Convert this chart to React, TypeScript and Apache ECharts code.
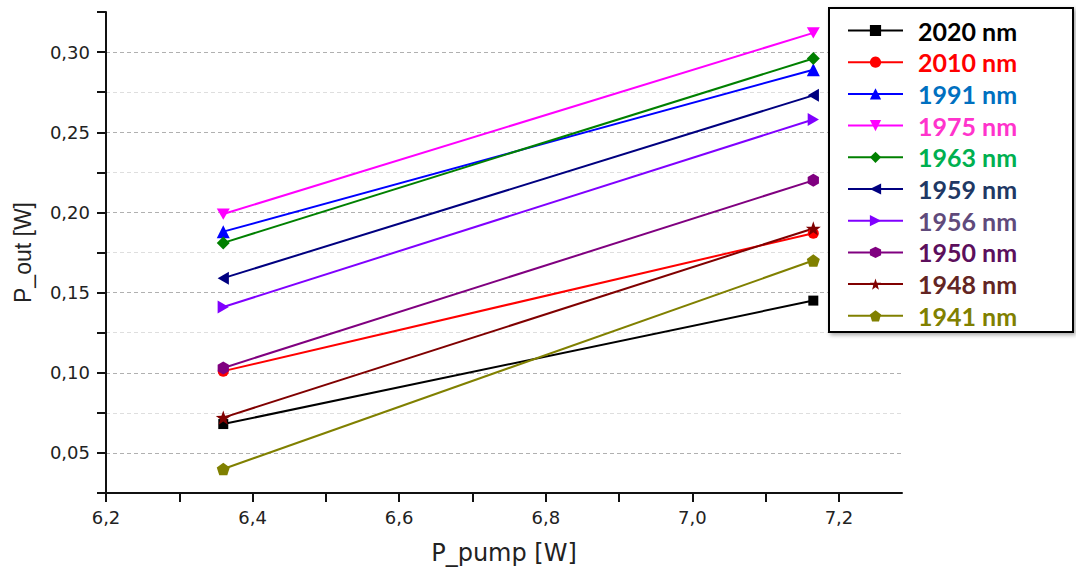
import React, { useEffect, useRef } from "react";
import * as echarts from "echarts";

// ---- data ----
const pumpPower = [6.36, 7.165];
const seriesNames = ["2020 nm", "2010 nm", "1991 nm", "1975 nm", "1963 nm", "1959 nm", "1956 nm", "1950 nm", "1948 nm", "1941 nm"];
const out2020 = [0.068, 0.145];
const out2010 = [0.101, 0.187];
const out1991 = [0.188, 0.289];
const out1975 = [0.199, 0.312];
const out1963 = [0.181, 0.296];
const out1959 = [0.159, 0.273];
const out1956 = [0.141, 0.258];
const out1950 = [0.103, 0.220];
const out1948 = [0.072, 0.190];
const out1941 = [0.040, 0.170];
const seriesValues = [out2020, out2010, out1991, out1975, out1963, out1959, out1956, out1950, out1948, out1941];

const xTickValues = [6.2, 6.3, 6.4, 6.5, 6.6, 6.7, 6.8, 6.9, 7.0, 7.1, 7.2];
const xLabelValues = [6.2, 6.4, 6.6, 6.8, 7.0, 7.2];
const yLabelValues = [0.05, 0.1, 0.15, 0.2, 0.25, 0.3];

// ---- styles ----
const lineColors = ["#000000", "#ff0000", "#0000ff", "#ff00ff", "#008000", "#000080", "#8000ff", "#800080", "#800000", "#808000"];
const textColors = ["#000000", "#ff0000", "#0070c0", "#ff33cc", "#00b050", "#1f3864", "#604a7b", "#5c0f5c", "#632523", "#808000"];

function polyPath(n: number, startDeg: number, rOuter: number, rInner?: number) {
  const pts: string[] = [];
  const total = rInner ? n * 2 : n;
  for (let i = 0; i < total; i++) {
    const r = rInner && i % 2 === 1 ? rInner : rOuter;
    const a = ((startDeg + (360 / total) * i) * Math.PI) / 180;
    pts.push(`${(10 + r * Math.cos(a)).toFixed(3)},${(10 + r * Math.sin(a)).toFixed(3)}`);
  }
  return "path://M" + pts.join("L") + "Z";
}

const symbols = [
  "rect",
  "circle",
  "triangle",
  "path://M0,0L10,0L5,8.66Z",
  "diamond",
  "path://M8.66,0L8.66,10L0,5Z",
  "path://M0,0L0,10L8.66,5Z",
  polyPath(6, -90, 10),
  polyPath(5, -90, 10, 4),
  polyPath(5, -90, 10),
];
const symbolSizes = [10, 11, 13, 13, 13, 13, 13, 13, 15, 13];

export default function App() {
  const ref = useRef<HTMLDivElement>(null);
  useEffect(() => {
    if (!ref.current) return;
    const chart = echarts.init(ref.current, undefined, { renderer: "svg" });
    const fmtComma = (v: number, d: number) => v.toFixed(d).replace(".", ",");
    const option: any = {
      animation: false,
      backgroundColor: "#ffffff",
      grid: { left: 106, top: 12, width: 796, height: 481, containLabel: false },
      xAxis: {
        type: "value",
        min: 6.2,
        max: 7.286,
        interval: 0.1,
        name: "P_pump [W]",
        nameLocation: "middle",
        nameGap: 48,
        nameTextStyle: { fontFamily: "DejaVu Sans", fontSize: 24, color: "#222" },
        axisLine: { show: true, onZero: false, lineStyle: { color: "#111", width: 2 } },
        axisTick: { show: true, inside: false, length: 9, lineStyle: { color: "#111", width: 2 }, customValues: xTickValues },
        axisLabel: {
          customValues: xLabelValues,
          formatter: (v: number) => fmtComma(v, 1),
          margin: 15,
          fontFamily: "DejaVu Sans",
          fontSize: 18,
          color: "#222",
        },
        splitLine: { show: false },
      },
      yAxis: {
        type: "value",
        min: 0.025,
        max: 0.325,
        interval: 0.025,
        name: "P_out [W]",
        nameLocation: "middle",
        nameGap: 72,
        nameTextStyle: { fontFamily: "Liberation Sans", fontSize: 23, color: "#222" },
        axisLine: { show: true, onZero: false, lineStyle: { color: "#111", width: 2 } },
        axisTick: { show: true, inside: false, length: 9, lineStyle: { color: "#111", width: 2 } },
        axisLabel: {
          customValues: yLabelValues,
          formatter: (v: number) => fmtComma(v, 2),
          margin: 16,
          fontFamily: "DejaVu Sans",
          fontSize: 18,
          color: "#222",
        },
        splitLine: {
          show: true,
          showMinLine: false,
          showMaxLine: false,
          lineStyle: { color: ["#b0b0b0", "#dedede"], type: [4, 3], width: 1 },
        },
      },
      legend: {
        orient: "vertical",
        left: 847,
        top: 18,
        padding: 0,
        itemWidth: 55,
        itemHeight: 14,
        itemGap: 6.7,
        selectedMode: false,
        z: 20,
        textStyle: { fontFamily: "Lato", fontWeight: "bold", fontSize: 25, lineHeight: 24, padding: [0, 0, 0, 10] },
        data: seriesNames.map((n, i) => ({ name: n, textStyle: { color: textColors[i] } })),
      },
      graphic: [
        {
          type: "rect",
          z: 15,
          shape: { x: 829, y: 8, width: 244, height: 324 },
          style: {
            fill: "#ffffff",
            stroke: "#000000",
            lineWidth: 2,
            shadowBlur: 4,
            shadowColor: "rgba(0,0,0,0.35)",
            shadowOffsetX: 2,
            shadowOffsetY: 2,
          },
        },
      ],
      series: seriesNames.map((name, i) => ({
        type: "line",
        name,
        data: pumpPower.map((x, k) => [x, seriesValues[i][k]]),
        symbol: symbols[i],
        symbolSize: symbolSizes[i],
        symbolKeepAspect: true,
        showAllSymbol: true,
        lineStyle: { color: lineColors[i], width: 2 },
        itemStyle: { color: lineColors[i] },
      })),
    };
    chart.setOption(option);
    return () => chart.dispose();
  }, []);
  return (
    <div
      ref={ref}
      style={{ position: "fixed", left: 0, top: 0, width: 1076, height: 577, background: "#fff" }}
    />
  );
}
